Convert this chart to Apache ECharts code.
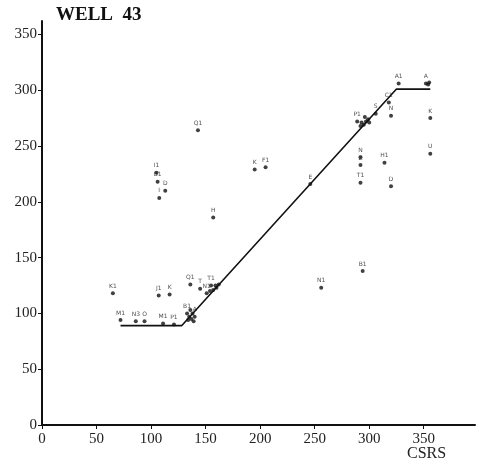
<!DOCTYPE html>
<html>
<head>
<meta charset="utf-8">
<title>WELL 43</title>
<script src="https://cdn.jsdelivr.net/npm/echarts@6/dist/echarts.min.js"></script>
<style>
  html, body { margin: 0; padding: 0; background: #fff; }
  #chart { width: 477px; height: 463px; }
</style>
</head>
<body>
<div id="chart"></div>
<script>
// tick labels
var xTicks = [0, 50, 100, 150, 200, 250, 300, 350];
var yTicks = [0, 50, 100, 150, 200, 250, 300, 350];

// sample points (label, CSRS, value)
var pointNames = [
  'K1', 'J1', 'K', 'M1', 'N3', 'O', 'M1', 'P1',
  'B1', '', '', '', '', 'A', '', '',
  'Q1', 'T', 'T1',
  'N1', '', '', '', '', '',
  'Q1', 'I1', 'B1', 'D', 'I', 'H', 'K', 'F1', 'E',
  'N', 'Z', 'T1', 'H1', 'D', 'U', 'K', 'N', 'C1', 'S',
  'P1', '', '', '', '', '', '', '',
  'A1', 'A', '', '',
  'B1', 'N1'
];
var pointX = [
  65, 107, 117, 72, 86, 94, 111, 121,
  133, 135, 137, 138, 136, 140, 134, 139,
  136, 145, 155,
  151, 154, 157, 160, 162, 159,
  143, 105, 106, 113, 107.5, 157, 195, 205, 246,
  292, 292, 292, 314, 320, 356, 356, 320, 318, 306,
  289, 293, 295, 297, 299, 296, 292, 300,
  327, 352, 354, 355,
  294, 256
];
var pointY = [
  118, 116, 117, 94, 93, 93, 91, 90,
  100, 97, 95, 100, 103, 97, 94, 93,
  126, 122, 125,
  118, 120, 121, 123, 126, 125,
  264, 226, 218, 210, 203.5, 186, 229, 231, 216,
  240, 233, 217, 235, 214, 243, 275, 277, 289, 279,
  272, 271, 269, 272, 274, 276, 268, 271,
  306, 306, 305, 307,
  138, 123
];

// fitted trend line
var lineX = [72, 128, 325, 356];
var lineY = [89, 89, 301, 301];

var chart = echarts.init(document.getElementById('chart'), null, { renderer: 'canvas' });

var pointData = pointX.map(function (x, i) {
  return { value: [x, pointY[i]], name: pointNames[i] };
});
var lineData = lineX.map(function (x, i) {
  return [x, lineY[i]];
});

var serif = 'Liberation Serif, Times New Roman, serif';

var option = {
  animation: false,
  backgroundColor: '#fff',
  title: [
    {
      text: 'WELL  43',
      left: 56,
      top: 6,
      padding: 0,
      textStyle: { fontFamily: serif, fontSize: 19, fontWeight: 'bold', color: '#111' }
    },
    {
      text: 'CSRS',
      left: 407,
      top: 446,
      padding: 0,
      textStyle: { fontFamily: serif, fontSize: 16, fontWeight: 'normal', color: '#222' }
    }
  ],
  grid: { left: 42, right: 2, top: 21, bottom: 38 },
  xAxis: {
    type: 'value',
    min: 0,
    max: 397,
    interval: 50,
    splitLine: { show: false },
    axisLine: { onZero: false, lineStyle: { color: '#111', width: 2 } },
    axisTick: { length: 4, customValues: xTicks, lineStyle: { color: '#111' } },
    axisLabel: { customValues: xTicks, margin: 7, fontFamily: serif, fontSize: 15, color: '#222' }
  },
  yAxis: {
    type: 'value',
    min: 0,
    max: 362,
    interval: 50,
    splitLine: { show: false },
    axisLine: { show: true, onZero: false, lineStyle: { color: '#111', width: 2 } },
    axisTick: { show: true, length: 4, customValues: yTicks, lineStyle: { color: '#111' } },
    axisLabel: { customValues: yTicks, margin: 5, fontFamily: serif, fontSize: 15, color: '#222' }
  },
  series: [
    {
      type: 'line',
      data: lineData,
      symbol: 'none',
      lineStyle: { color: '#111', width: 1.6 },
      z: 2
    },
    {
      type: 'scatter',
      data: pointData,
      symbolSize: 4,
      itemStyle: { color: '#111' },
      label: {
        show: true,
        position: 'top',
        distance: 2,
        formatter: function (p) { return p.name; },
        fontFamily: 'DejaVu Sans',
        fontSize: 6,
        color: '#222'
      },
      z: 3
    }
  ]
};

chart.setOption(option);
</script>
</body>
</html>
